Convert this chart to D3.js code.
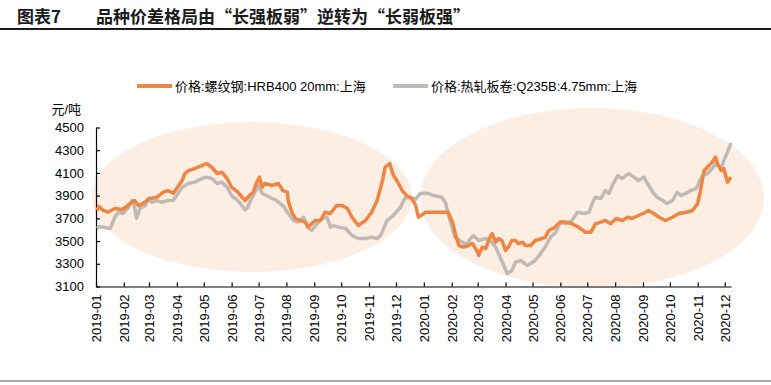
<!DOCTYPE html>
<html lang="zh">
<head>
<meta charset="utf-8">
<title>品种价差格局</title>
<script src="https://d3js.org/d3.v7.min.js"></script>
<style>
    body { margin: 0; background: #fff; }
    text { font-family: "Liberation Sans", Arial, "Noto Sans CJK SC", sans-serif; }
    .title { font-family: "Noto Sans CJK SC", sans-serif; font-weight: bold; font-size: 17px; fill: #1a1a1a; }
    .axis path, .axis line { stroke: #000; stroke-width: 1.2; }
    .axis text { font-size: 13px; fill: #000; }
</style>
</head>
<body>
<div id="chart"></div>
<script>
// ---- data ----
const seriesNames = ["价格:螺纹钢:HRB400 20mm:上海", "价格:热轧板卷:Q235B:4.75mm:上海"];

const rebarDates = ["2019-01-02","2019-01-04","2019-01-09","2019-01-14","2019-01-22","2019-01-30","2019-02-04","2019-02-10","2019-02-13","2019-02-17","2019-02-22","2019-03-02","2019-03-10","2019-03-17","2019-03-22","2019-03-28","2019-04-07","2019-04-10","2019-04-14","2019-04-21","2019-04-29","2019-05-04","2019-05-10","2019-05-16","2019-05-21","2019-05-27","2019-06-01","2019-06-08","2019-06-16","2019-06-22","2019-06-25","2019-06-29","2019-07-02","2019-07-05","2019-07-08","2019-07-16","2019-07-23","2019-07-28","2019-08-02","2019-08-03","2019-08-07","2019-08-11","2019-08-16","2019-08-22","2019-08-25","2019-09-02","2019-09-08","2019-09-13","2019-09-19","2019-09-26","2019-10-02","2019-10-08","2019-10-13","2019-10-20","2019-10-28","2019-11-04","2019-11-10","2019-11-16","2019-11-19","2019-11-24","2019-11-28","2019-12-02","2019-12-08","2019-12-13","2019-12-19","2019-12-23","2019-12-26","2020-01-03","2020-01-14","2020-01-28","2020-02-02","2020-02-05","2020-02-09","2020-02-14","2020-02-20","2020-02-24","2020-02-29","2020-03-02","2020-03-06","2020-03-10","2020-03-13","2020-03-17","2020-03-21","2020-03-24","2020-03-28","2020-04-01","2020-04-04","2020-04-08","2020-04-12","2020-04-15","2020-04-20","2020-04-23","2020-04-29","2020-05-04","2020-05-08","2020-05-15","2020-05-19","2020-05-24","2020-06-01","2020-06-07","2020-06-14","2020-06-21","2020-06-29","2020-07-05","2020-07-10","2020-07-16","2020-07-21","2020-07-27","2020-08-02","2020-08-09","2020-08-15","2020-08-20","2020-08-27","2020-09-04","2020-09-07","2020-09-13","2020-09-19","2020-09-26","2020-10-04","2020-10-11","2020-10-19","2020-10-26","2020-11-01","2020-11-04","2020-11-08","2020-11-12","2020-11-17","2020-11-21","2020-11-23","2020-11-27","2020-11-30","2020-12-04","2020-12-08"];
const rebarValues = [3770,3805,3770,3754,3787,3778,3805,3842,3857,3813,3830,3875,3886,3930,3945,3922,4033,4095,4121,4139,4165,4183,4150,4095,4107,4051,3974,3930,3857,3910,3930,4019,4063,3974,4007,3989,4007,3945,3930,3857,3754,3699,3681,3667,3623,3681,3681,3754,3743,3813,3813,3787,3710,3637,3681,3754,3857,4033,4151,4183,4080,4033,3945,3900,3870,3813,3710,3754,3754,3754,3667,3567,3461,3446,3461,3478,3417,3373,3446,3434,3505,3567,3490,3523,3505,3417,3446,3505,3505,3478,3490,3461,3461,3505,3514,3532,3593,3611,3667,3667,3652,3623,3578,3578,3652,3667,3681,3652,3699,3681,3710,3699,3725,3754,3769,3743,3710,3681,3710,3743,3754,3769,3831,3945,4121,4151,4195,4239,4183,4121,4139,4019,4063];

const coilDates = ["2019-01-02","2019-01-05","2019-01-11","2019-01-17","2019-01-22","2019-01-26","2019-01-31","2019-02-06","2019-02-10","2019-02-13","2019-02-15","2019-02-19","2019-02-25","2019-02-28","2019-03-04","2019-03-10","2019-03-15","2019-03-22","2019-03-28","2019-04-07","2019-04-14","2019-04-21","2019-04-29","2019-05-04","2019-05-10","2019-05-16","2019-05-21","2019-05-27","2019-06-01","2019-06-08","2019-06-16","2019-06-19","2019-06-22","2019-06-27","2019-07-01","2019-07-05","2019-07-10","2019-07-16","2019-07-21","2019-07-28","2019-08-03","2019-08-09","2019-08-14","2019-08-20","2019-08-25","2019-08-29","2019-09-04","2019-09-10","2019-09-15","2019-09-19","2019-09-22","2019-09-28","2019-10-06","2019-10-13","2019-10-20","2019-10-28","2019-11-04","2019-11-10","2019-11-14","2019-11-21","2019-11-28","2019-12-06","2019-12-11","2019-12-17","2019-12-23","2019-12-28","2020-01-05","2020-01-12","2020-01-21","2020-01-25","2020-01-28","2020-01-31","2020-02-05","2020-02-13","2020-02-18","2020-02-22","2020-02-25","2020-03-02","2020-03-10","2020-03-15","2020-03-21","2020-03-26","2020-03-30","2020-04-03","2020-04-08","2020-04-12","2020-04-18","2020-04-25","2020-04-29","2020-05-04","2020-05-10","2020-05-15","2020-05-21","2020-05-27","2020-06-01","2020-06-07","2020-06-14","2020-06-20","2020-06-27","2020-07-03","2020-07-07","2020-07-10","2020-07-16","2020-07-21","2020-07-25","2020-07-30","2020-08-04","2020-08-09","2020-08-16","2020-08-22","2020-08-27","2020-09-02","2020-09-06","2020-09-12","2020-09-17","2020-09-23","2020-09-28","2020-10-04","2020-10-09","2020-10-13","2020-10-19","2020-10-24","2020-10-30","2020-11-02","2020-11-06","2020-11-12","2020-11-17","2020-11-21","2020-11-27","2020-11-30","2020-12-04","2020-12-08"];
const coilValues = [3611,3628,3620,3611,3710,3754,3743,3796,3857,3798,3699,3787,3813,3875,3842,3857,3842,3857,3857,3974,4007,4019,4051,4063,4051,4007,4019,3974,3901,3857,3775,3798,3857,3930,3989,3919,3901,3875,3857,3813,3743,3681,3667,3710,3623,3593,3652,3699,3710,3623,3637,3623,3611,3549,3523,3523,3535,3523,3550,3681,3725,3798,3880,3886,3870,3919,3922,3901,3886,3840,3743,3660,3530,3490,3470,3523,3549,3505,3523,3505,3446,3358,3285,3214,3241,3314,3329,3285,3302,3329,3390,3446,3535,3578,3667,3652,3681,3754,3743,3754,3842,3886,3875,3945,3919,4007,4077,4051,4095,4063,4033,4063,4007,3930,3886,3857,3831,3857,3930,3901,3919,3945,3960,4007,4077,4095,4139,4183,4139,4209,4283,4363];

const xTickLabels = ["2019-01","2019-02","2019-03","2019-04","2019-05","2019-06","2019-07","2019-08","2019-09","2019-10","2019-11","2019-12","2020-01","2020-02","2020-03","2020-04","2020-05","2020-06","2020-07","2020-08","2020-09","2020-10","2020-11","2020-12"];
const yTicks = [3100, 3300, 3500, 3700, 3900, 4100, 4300, 4500];

// ---- layout ----
let w = 771, h = 385;
let plotLeft = 96, plotRight = 731, plotTop = 127.5, plotBottom = 286.5;
const orange = "#ef8540", grey = "#bfbab5", shade = "#fdeee4";

const parse = d3.timeParse("%Y-%m-%d");
const parseMonth = d3.timeParse("%Y-%m");

let svg = d3.select("#chart").append("svg")
    .attr("width", w)
    .attr("height", h);

//title and rules
svg.append("text").attr("class", "title").attr("x", 17).attr("y", 23).text("图表7");
svg.append("text").attr("class", "title").attr("x", 96).attr("y", 23).text("品种价差格局由“长强板弱”逆转为“长弱板强”");
svg.append("line").attr("x1", 0).attr("x2", w).attr("y1", 29).attr("y2", 29)
    .attr("stroke", "#1a1a1a").attr("stroke-width", 2);
svg.append("line").attr("x1", 0).attr("x2", w).attr("y1", 381).attr("y2", 381)
    .attr("stroke", "#555").attr("stroke-width", 1);

//scales
let xScale = d3.scaleTime()
    .domain([parse("2019-01-01"), parse("2020-12-08")])
    .range([plotLeft, plotRight]);
let yScale = d3.scaleLinear()
    .domain([3100, 4500])
    .range([plotBottom, plotTop]);

//highlight ellipses
svg.append("ellipse").attr("cx", 252).attr("cy", 197).attr("rx", 160).attr("ry", 75).attr("fill", shade);
svg.append("ellipse").attr("cx", 592).attr("cy", 198).attr("rx", 172).attr("ry", 90).attr("fill", shade);

//axes
let xAxis = d3.axisBottom(xScale)
    .tickValues(xTickLabels.map(parseMonth))
    .tickFormat(d3.timeFormat("%Y-%m"))
    .tickSizeInner(-4)
    .tickSizeOuter(0);
let yAxis = d3.axisLeft(yScale)
    .tickValues(yTicks)
    .tickFormat(d3.format("d"))
    .tickSizeInner(-4)
    .tickSizeOuter(0)
    .tickPadding(12);

svg.append("g")
    .attr("class", "axis")
    .attr("transform", `translate(0, ${plotBottom})`)
    .call(xAxis)
    .selectAll("text")
    .attr("transform", "rotate(-90)")
    .attr("x", -8)
    .attr("y", 0)
    .attr("dy", "0.35em")
    .style("text-anchor", "end");

svg.append("g")
    .attr("class", "axis")
    .attr("transform", `translate(${plotLeft}, 0)`)
    .call(yAxis);

svg.append("text")
    .attr("x", 81).attr("y", 114)
    .attr("text-anchor", "end")
    .style("font-size", "13px")
    .text("元/吨");

//lines
let line = d3.line()
    .x(d => xScale(d[0]))
    .y(d => yScale(d[1]));

let coil = coilDates.map((d, i) => [parse(d), coilValues[i]]);
let rebar = rebarDates.map((d, i) => [parse(d), rebarValues[i]]);

svg.append("path").datum(coil)
    .attr("d", line).attr("fill", "none")
    .attr("stroke", grey).attr("stroke-width", 3.5).attr("stroke-linejoin", "round");
svg.append("path").datum(rebar)
    .attr("d", line).attr("fill", "none")
    .attr("stroke", orange).attr("stroke-width", 3.5).attr("stroke-linejoin", "round");

//legend
let legend = [
    { name: seriesNames[0], color: orange, x: 137 },
    { name: seriesNames[1], color: grey, x: 393 }
];
let lg = svg.selectAll(".legend").data(legend).enter().append("g")
    .attr("class", "legend")
    .attr("transform", d => `translate(${d.x}, 86)`);
lg.append("line").attr("x1", 0).attr("x2", 35).attr("y1", 0).attr("y2", 0)
    .attr("stroke", d => d.color).attr("stroke-width", 4);
lg.append("text").attr("x", 38).attr("y", 0).attr("dy", "0.35em")
    .style("font-size", "13px")
    .text(d => d.name);
</script>
</body>
</html>
